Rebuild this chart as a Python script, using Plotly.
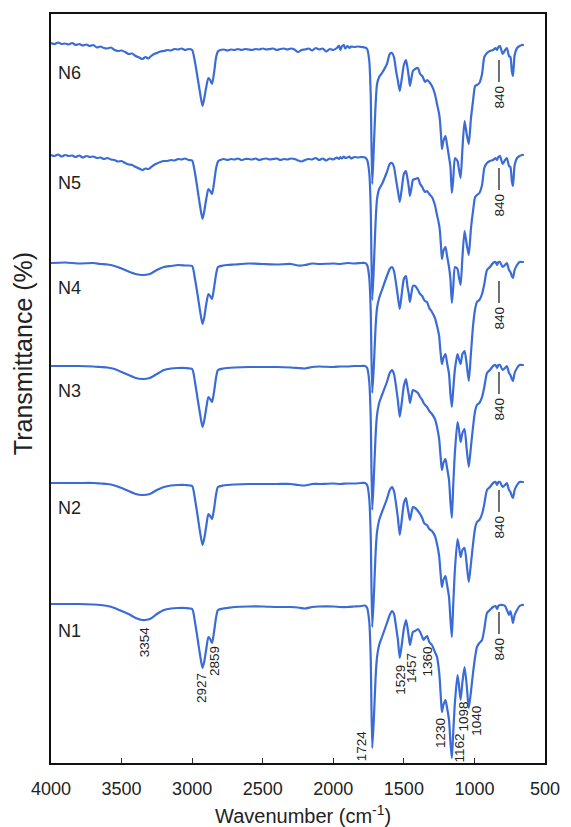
import plotly.graph_objects as go

# ---------------- data ----------------
NAMES = ["N1", "N2", "N3", "N4", "N5", "N6"]

# high-wavenumber region grid for the smooth spectra N1-N4
WN_SMOOTH = [4000, 3900, 3800, 3700, 3650, 3600, 3550, 3500, 3450, 3400,
             3354, 3300, 3250, 3200, 3150, 3100, 3050, 3000, 2980, 2960,
             2945, 2927, 2915, 2900, 2885, 2872, 2859, 2845, 2830, 2817,
             2780, 2750, 2700, 2600, 2500, 2400, 2300, 2250, 2200, 2150,
             2100, 2000, 1950, 1900, 1850, 1800, 1775]

# high-wavenumber region grid for the noisy spectra N5-N6
WN_NOISY = [4000, 3975, 3950, 3925, 3900, 3875, 3850, 3825, 3800, 3775,
            3750, 3725, 3700, 3675, 3650, 3625, 3600, 3575, 3550, 3525,
            3500, 3475, 3450, 3425, 3400, 3375,
            3354, 3330, 3310, 3290, 3270, 3250, 3225, 3200, 3175, 3150,
            3125, 3100, 3075, 3050, 3025, 3000,
            2980, 2960, 2945, 2927, 2915, 2900, 2885, 2872, 2859, 2845,
            2830, 2815, 2800,
            2775, 2750, 2725, 2700, 2675, 2650, 2625, 2600, 2575, 2550,
            2525, 2500, 2475, 2450, 2425, 2400, 2375, 2350, 2325, 2300,
            2275, 2250, 2225, 2200, 2175, 2150, 2125, 2100, 2075, 2050,
            2025, 2000,
            1975, 1960, 1950, 1940, 1925, 1915, 1900, 1885, 1875, 1850,
            1825, 1800, 1775]

# fingerprint region grid (all spectra)
WN_FP = [1760, 1745, 1735, 1724, 1712, 1700, 1690, 1675, 1655, 1620,
         1600, 1584, 1570, 1555, 1542, 1529, 1515, 1500, 1485, 1475,
         1465, 1457, 1445, 1436, 1420, 1400, 1385, 1370, 1360, 1350,
         1336, 1320, 1301, 1280, 1265, 1250, 1244, 1236, 1230, 1220,
         1205, 1195, 1180, 1170, 1160, 1150, 1138, 1120, 1110, 1098,
         1085, 1070, 1055, 1040, 1025, 1010, 995, 982, 965, 946,
         930, 911, 890, 868, 850, 840, 830, 819, 800, 783,
         770, 755, 745, 735, 727, 715, 698, 680, 663, 650]

# transmittance relative to each spectrum's baseline (a.u.)
N1_HI = [3, 3, 3, 2.5, 2, 1, -1, -4, -7, -11,
         -13, -12, -7, -3, -1.5, -1, -1, -2, -15, -33,
         -47, -61, -55, -42, -30, -32, -36, -25, -10, -3,
         -1.5, -1, 0, 0.5, 0.5, 0, 0, -0.5, -1.5, 0,
         0.5, 0.5, 0, 0, 0.5, 1, 1.5]
N2_HI = [1, 1, 1, 1, 0.5, 0, -1.5, -4, -7, -10,
         -11, -10, -6, -3, -1.5, -1, -1, -2, -15, -33,
         -47, -61, -55, -42, -30, -32, -35, -25, -10, -3,
         -1.5, -1, -0.5, 0, 0, 0, 0, -1, -1.5, 0,
         0, 0.5, 0, 0.5, 0.5, 1, 1]
N3_HI = [1, 1, 1, 0.5, 0, -0.5, -2, -5, -8, -11,
         -12, -11, -7, -3, -1.5, -1, -1, -2, -15, -33,
         -46, -60, -54, -41, -30, -32, -35, -25, -10, -3,
         -1.5, -1, -0.5, 0, 0, 0, -0.5, -1, -1.5, 0,
         0.5, 0, 0.5, 0.5, 1, 1, 1]
N4_HI = [1, 1.5, 0.5, 1, 0, -0.5, -2, -4.5, -7.5, -10,
         -11, -10, -6, -3, -2, -1, -1.5, -2, -15, -32,
         -46, -60, -54, -40, -30, -32, -35, -24, -10, -3,
         -1.5, -1, -0.5, 0.5, 0, -0.5, 0, -1.5, -1, 0.5,
         0, 0.5, 0, 1, 0.5, 1, 1]
N5_HI = [4, 3, 4.5, 2.5, 4, 3, 3.5, 2, 3.5, 1.5,
         3, 2, 2.5, 1, 1.5, 0, 1, -0.5, -1, -2.5,
         -2, -4, -5.5, -6, -8, -9.5,
         -11, -9.5, -10, -8, -6, -4.5, -3, -2, -2, -1,
         -1.5, 0, -0.5, 0.5, -1, -1.5,
         -14, -32, -46, -60, -53, -40, -30, -32, -35, -24,
         -9, -2, -1,
         0, -1, 0, -0.5, 0.5, -1, 0, 0, -0.5, 0.5,
         -1, 0, 0.5, -0.5, 0, 0.5, -1, 0, -0.5, 0.5,
         0, -1.5, -2.5, -1, 0, -0.5, 1, -1, 0.5, -1.5,
         0.5, -0.5,
         1.5, 0, 2, 0.5, 2.5, 1, 1.5, 2.5, 0.5, 2,
         1.5, 2, 1.5]
N6_HI = [6, 5, 6.5, 5, 5.5, 4.5, 6, 4, 5, 3.5,
         4.5, 3, 4, 1.5, 2.5, 1, 0.5, 1.5, -1, -2,
         -1.5, -3, -5, -4.5, -7, -8.5,
         -10, -8, -9.5, -7, -5, -4, -2.5, -2, -1, -1.5,
         0, -0.5, 0.5, -1, 0, -1,
         -13, -30, -43, -57, -50, -38, -29, -31, -35, -24,
         -8, -2, -1,
         -0.5, -1.5, -0.5, -1, 0, -1, 0, -0.5, -1, 0,
         -0.5, 0.5, -0.5, 0, 0.5, -1, 0, 0.5, -0.5, 0.5,
         -0.5, -3, -1, -0.5, 0.5, -1.5, 1, -0.5, 0.5, -2.5,
         0, -1,
         1, 3.5, -1, 2.5, 4, 0.5, 3, 1, 2.5, 2,
         2.5, 2, 1.5]

N1_FP = [-1, -15, -50, -141, -110, -70, -50, -38, -30, -16,
         -8, -4, -7, -20, -33, -51, -38, -22, -13, -20,
         -30, -38, -30, -25, -24, -22, -25, -30, -33, -31,
         -29, -35, -38, -45, -50, -65, -76, -95, -105, -98,
         -93, -100, -113, -135, -151, -125, -95, -68, -78, -93,
         -75, -60, -78, -101, -85, -66, -50, -40, -36, -33,
         -22, -6, -3, 0, 1, -2, 1, 2, 2, 1,
         -3, -8, -4, -10, -16, -8, -3, 1, 2, 2]
N2_FP = [-1, -15, -50, -143, -110, -68, -48, -36, -28, -15,
         -6, -3, -7, -20, -34, -51, -36, -19, -14, -22,
         -30, -36, -28, -23, -24, -27, -30, -34, -38, -40,
         -41, -45, -47, -52, -60, -72, -82, -96, -103, -96,
         -92, -100, -113, -135, -153, -120, -85, -55, -62, -73,
         -66, -64, -80, -98, -80, -60, -44, -38, -36, -30,
         -20, -6, -3, 1, 2, -1, 2, 2, -3, -1,
         1, -6, -8, -12, -14, -6, -1, 2, 2, 2]
N3_FP = [-1, -15, -50, -143, -108, -68, -48, -36, -28, -15,
         -6, -3, -7, -20, -34, -50, -36, -19, -12, -20,
         -28, -36, -28, -23, -24, -26, -30, -33, -36, -38,
         -40, -44, -47, -52, -60, -72, -82, -96, -103, -96,
         -92, -100, -113, -135, -151, -118, -85, -55, -62, -75,
         -66, -62, -82, -100, -80, -60, -44, -38, -36, -30,
         -20, -6, -3, 1, 2, -1, 2, 2, -3, -1,
         1, -6, -8, -12, -14, -6, -1, 2, 2, 2]
N4_FP = [-1, -14, -46, -129, -100, -62, -44, -34, -26, -12,
         -5, -3, -7, -20, -33, -45, -30, -15, -12, -22,
         -30, -38, -28, -22, -22, -26, -30, -32, -35, -37,
         -38, -44, -48, -54, -62, -72, -82, -94, -100, -94,
         -90, -98, -110, -130, -143, -125, -105, -90, -95, -100,
         -90, -87, -100, -117, -90, -62, -45, -38, -36, -30,
         -20, -6, -3, 1, 2, -1, 2, 2, -3, -1,
         1, -6, -8, -12, -14, -6, -1, 2, 2, 2]
N5_FP = [-1, -14, -48, -141, -105, -62, -40, -30, -25, -13,
         -5, -4, -8, -21, -32, -43, -30, -15, -12, -19,
         -28, -37, -28, -21, -20, -19, -25, -28, -31, -33,
         -32, -35, -38, -46, -56, -66, -73, -89, -100, -92,
         -88, -96, -108, -120, -144, -128, -108, -110, -118, -126,
         -98, -72, -85, -96, -70, -52, -38, -36, -34, -26,
         -9, -4, -2, -1, 1, -1, 2, 3, -5, -1,
         1, -7, -8, -22, -27, -6, 1, 3, 4, 4]
N6_FP = [0, -12, -45, -135, -95, -55, -35, -28, -24, -15,
         -5, -4, -8, -22, -32, -42, -30, -16, -11, -18,
         -28, -37, -28, -22, -20, -19, -25, -27, -30, -33,
         -31, -33, -37, -45, -55, -65, -72, -88, -100, -92,
         -87, -95, -108, -118, -144, -130, -109, -112, -120, -129,
         -100, -72, -85, -95, -70, -52, -37, -36, -34, -25,
         -8, -4, -2, -1, 1, -1, 2, 3, -5, -1,
         1, -7, -8, -22, -27, -6, 1, 3, 4, 4]

PEAK_WN = [3354, 2927, 2859, 1724, 1529, 1457, 1360, 1230, 1162, 1098, 1040]
PEAK_TXT = [str(w) for w in PEAK_WN]
MARK_WN = 840
TICK_VALS = [4000, 3500, 3000, 2500, 2000, 1500, 1000, 500]

# ---------------- layout / style parameters ----------------
OFFSETS = [156, 279, 396, 499, 604, 714]           # vertical stacking offsets
PEAK_LABEL_Y = [121, 75, 102, 17, 83, 95, 101, 30, 15, 46, 42]
PEAK_LABEL_DX = [2, -1.5, 2, -11, 0, 1, 3, -2, 7, 2, 7]
MARK_DY = [42, 43, 42, 54, 46, 48]                  # 840 label below baseline
BLUE = "#3a6bd6"
TXT = "#222222"
FONT = "Liberation Sans, Arial, Helvetica, sans-serif"

series = [
    (WN_SMOOTH, N1_HI, N1_FP),
    (WN_SMOOTH, N2_HI, N2_FP),
    (WN_SMOOTH, N3_HI, N3_FP),
    (WN_SMOOTH, N4_HI, N4_FP),
    (WN_NOISY, N5_HI, N5_FP),
    (WN_NOISY, N6_HI, N6_FP),
]

fig = go.Figure()
annotations = []
shapes = []
for name, (wn_hi, hi, fp), off, mdy in zip(NAMES, series, OFFSETS, MARK_DY):
    x = list(wn_hi) + list(WN_FP)
    y = [off + v for v in list(hi) + list(fp)]
    fig.add_trace(go.Scatter(x=x, y=y, mode="lines", name=name,
                             line=dict(color=BLUE, width=2.2, shape="spline", smoothing=0.6),
                             showlegend=False, hoverinfo="skip"))
    annotations.append(dict(x=3962, y=off - 24, text=name, showarrow=False,
                            xanchor="left", yanchor="middle",
                            font=dict(size=18, color=TXT, family=FONT)))
    annotations.append(dict(x=MARK_WN, y=off - mdy, text=str(MARK_WN), showarrow=False,
                            textangle=-90, xshift=1.5, xanchor="center", yanchor="middle",
                            font=dict(size=13.5, color=TXT, family=FONT)))
    shapes.append(dict(type="line", xref="x", yref="y", x0=826, x1=826,
                       y0=off - mdy + 15, y1=off - mdy + 37,
                       line=dict(color=TXT, width=1.3)))

for wn, txt, ly, dx in zip(PEAK_WN, PEAK_TXT, PEAK_LABEL_Y, PEAK_LABEL_DX):
    annotations.append(dict(x=wn, y=ly, text=txt, showarrow=False, textangle=-90,
                            xshift=dx, xanchor="center", yanchor="middle",
                            font=dict(size=13.5, color=TXT, family=FONT)))

# axis titles
annotations.append(dict(xref="paper", yref="paper", x=0.51, y=-0.0694,
                        text="Wavenumber (cm<sup>-1</sup>)", showarrow=False,
                        xanchor="center", yanchor="middle",
                        font=dict(size=20, color=TXT, family=FONT)))
annotations.append(dict(xref="paper", yref="paper", x=-0.057, y=0.547,
                        text="Transmittance (%)", showarrow=False, textangle=-90,
                        xanchor="center", yanchor="middle",
                        font=dict(size=25, color=TXT, family=FONT)))

fig.update_layout(
    width=571, height=827,
    margin=dict(l=51, r=26, t=14, b=64),
    paper_bgcolor="white", plot_bgcolor="white",
    annotations=annotations, shapes=shapes,
    font=dict(family=FONT, color=TXT),
)
fig.update_xaxes(range=[4000, 500], tickvals=TICK_VALS, ticktext=[str(v) for v in TICK_VALS],
                 ticks="inside", ticklen=5, tickwidth=1, tickcolor="#333",
                 showline=True, linecolor="#111", linewidth=1.8, mirror=True,
                 showgrid=False, zeroline=False, ticklabelstandoff=8,
                 tickfont=dict(size=18, color=TXT, family=FONT))
fig.update_yaxes(range=[0, 749], showticklabels=False, ticks="",
                 showline=True, linecolor="#111", linewidth=1.8, mirror=True,
                 showgrid=False, zeroline=False)

fig.write_html("out.html")
